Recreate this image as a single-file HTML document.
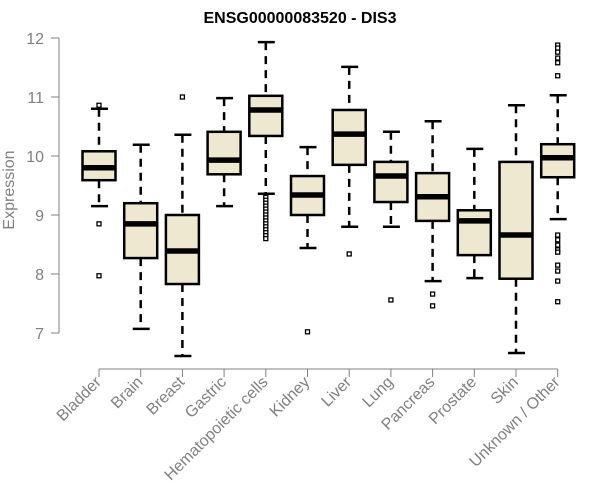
<!DOCTYPE html>
<html><head><meta charset="utf-8"><style>
body{margin:0;background:#fff}
svg{display:block;font-family:"Liberation Sans",Arial,sans-serif}
</style></head><body>
<svg id="chart" width="600" height="500">
<text x="300" y="23" text-anchor="middle" font-weight="bold" font-size="16">ENSG00000083520 - DIS3</text>
<text transform="translate(14,190) rotate(-90)" text-anchor="middle" font-size="16" fill="#808080">Expression</text>
<g id="axes"></g><g id="boxes"></g>
</svg>
<script>
const categories=["Bladder","Brain","Breast","Gastric","Hematopoietic cells","Kidney","Liver","Lung","Pancreas","Prostate","Skin","Unknown / Other"];
const whiskerHigh=[10.80,10.19,10.36,10.98,11.93,10.15,11.51,10.41,10.59,10.12,10.86,11.03];
const q3=[10.08,9.20,9.00,10.41,11.02,9.66,10.78,9.90,9.71,9.08,9.90,10.20];
const medians=[9.80,8.85,8.39,9.93,10.78,9.34,10.37,9.66,9.31,8.90,8.66,9.97];
const q1=[9.59,8.27,7.83,9.69,10.34,9.00,9.85,9.22,8.90,8.32,7.92,9.64];
const whiskerLow=[9.15,7.07,6.61,9.15,9.36,8.44,8.80,8.80,7.88,7.93,6.66,8.93];
const outliers=[[10.86,8.85,7.97],[],[11.0],[],[9.3,9.25,9.2,9.15,9.1,9.05,9.0,8.95,8.9,8.85,8.8,8.75,8.7,8.65,8.6],[7.02],[8.34],[7.56],[7.66,7.46],[],[],[11.88,11.83,11.76,11.66,11.58,11.36,8.66,8.58,8.49,8.41,8.37,8.15,8.05,7.88,7.53]];
const yTicks=[7,8,9,10,11,12];
const NS="http://www.w3.org/2000/svg";
const y=v=>38+(12-v)*59;
const x=i=>99+i*41.7;
function mk(tag,attrs,parent,txt){const e=document.createElementNS(NS,tag);for(const k in attrs)e.setAttribute(k,attrs[k]);if(txt!==undefined)e.textContent=txt;parent.appendChild(e);return e;}
const ax=document.getElementById('axes'),bx=document.getElementById('boxes');
let l=mk('line',{x1:59,x2:59,y1:y(12),y2:y(7),stroke:'#808080','stroke-width':1},ax);


yTicks.forEach(t=>{
 let tk=mk('line',{x1:51,x2:59,y1:y(t),y2:y(t),stroke:'#808080'},ax);
 
 
 let tl=mk('text',{x:44,y:y(t)+6,'text-anchor':'end','font-size':16,fill:'#808080'},ax,t);
 
 
});
let xl=mk('line',{x1:x(0),x2:x(categories.length-1),y1:369,y2:369,stroke:'#808080'},ax);


categories.forEach((c,i)=>{
 const cx=x(i);
 let tk=mk('line',{x1:cx,x2:cx,y1:369,y2:377,stroke:'#808080'},ax);
 
 
 let tl=mk('text',{transform:`translate(${cx+3},${383}) rotate(-45)`,'text-anchor':'end','font-size':16,fill:'#808080'},ax,c);
 
 
 const g=mk('g',{},bx);
 
 
 mk('line',{x1:cx,x2:cx,y1:y(whiskerHigh[i]),y2:y(q3[i]),stroke:'#000','stroke-width':2.5,'stroke-dasharray':'8,6'},g);
 mk('line',{x1:cx,x2:cx,y1:y(q1[i]),y2:y(whiskerLow[i]),stroke:'#000','stroke-width':2.5,'stroke-dasharray':'8,6'},g);
 mk('line',{x1:cx-8,x2:cx+9,y1:y(whiskerHigh[i]),y2:y(whiskerHigh[i]),stroke:'#000','stroke-width':2.5},g);
 mk('line',{x1:cx-8,x2:cx+9,y1:y(whiskerLow[i]),y2:y(whiskerLow[i]),stroke:'#000','stroke-width':2.5},g);
 mk('rect',{x:cx-16.5,y:y(q3[i]),width:33,height:y(q1[i])-y(q3[i]),fill:'#ede8cf',stroke:'#000','stroke-width':2.5},g);
 mk('line',{x1:cx-16.5,x2:cx+16.5,y1:y(medians[i]),y2:y(medians[i]),stroke:'#000','stroke-width':5.5},g);
 outliers[i].forEach(o=>{
  let p=mk('rect',{x:cx-2,y:y(o)-2,width:4,height:4,fill:'#fff',stroke:'#000','stroke-width':1.3},g);
  
  
 });
});
</script>
</body></html>
